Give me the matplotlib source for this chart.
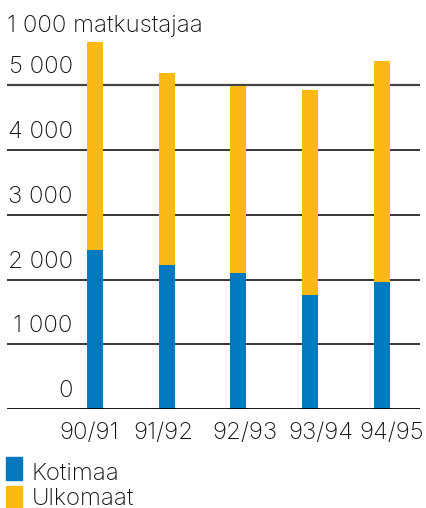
import numpy as np
import matplotlib
matplotlib.use('Agg')
import matplotlib.pyplot as plt
from matplotlib.patches import Rectangle
from matplotlib.transforms import ScaledTranslation, blended_transform_factory
from matplotlib import rcParams
rcParams['font.family'] = ['Inter', 'DejaVu Sans']
rcParams['font.weight'] = 'light'

##################################################
# data

seasons = ['90/91', '91/92', '92/93', '93/94', '94/95']
kotimaa = np.array([2450, 2230, 2105, 1755, 1960])
total = np.array([5670, 5195, 4995, 4935, 5385])
ulkomaat = total - kotimaa

yticks = [0, 1000, 2000, 3000, 4000, 5000]
ytick_labels = ['0', '1 000', '2 000', '3 000', '4 000', '5 000']
series_names = ['Kotimaa', 'Ulkomaat']

##################################################
# settings

blue = '#0079c1'
yellow = '#fdb913'
W, H, dpi = 426, 508, 100
fs = 17.3
tcol = '#111111'

##################################################
# main program

fig = plt.figure(figsize=(W/dpi, H/dpi), dpi=dpi)
ax = fig.add_axes([7/W, (H-409)/H, 413/W, 374/H])

x = np.arange(len(seasons))
ax.bar(x, kotimaa, width=0.223, color=blue, zorder=2)
ax.bar(x, ulkomaat, bottom=kotimaa, width=0.223, color=yellow, zorder=2)

ax.set_xlim(-1.226, 4.53)
ax.set_ylim(0, 5780)
ax.axis('off')

# gridlines with labels above them
lab_tr = blended_transform_factory(ax.transAxes, ax.transData)
for val, lab in zip(yticks, ytick_labels):
    if val == 0:
        ax.axhline(val, color='black', lw=2.0, zorder=3)
    elif val == 5000:
        ax.axhline(val, color='#444444', lw=1.6, zorder=1)
    else:
        ax.axhline(val, color='black', lw=1.1, zorder=1)
    ax.text(0.159, val, lab, transform=lab_tr + ScaledTranslation(0, 12/dpi, fig.dpi_scale_trans),
            ha='right', va='baseline', fontsize=fs, color=tcol)

# category labels (not exactly centred under the bars in the original)
offsets_px = [-5.5, -3, 6, 11, 10]
cat_tr = blended_transform_factory(ax.transData, ax.transAxes)
for xi, lab, off in zip(x, seasons, offsets_px):
    ax.text(xi, 0, lab, transform=cat_tr + ScaledTranslation(off/dpi, -30/dpi, fig.dpi_scale_trans),
            ha='center', va='baseline', fontsize=fs, color=tcol)

fig.text(7/W, (H-32)/H, '1 000 matkustajaa', ha='left', va='baseline', fontsize=fs, color=tcol)

# legend
for i, (name, col) in enumerate(zip(series_names, [blue, yellow])):
    top = 457 + i*29
    fig.add_artist(Rectangle((6/W, (H-top-23)/H), 16/W, 23/H, color=col,
                             transform=fig.transFigure))
    base = 480 + i*25
    fig.text(32/W, (H-base)/H, name, ha='left', va='baseline', fontsize=fs, color=tcol)

plt.savefig('out.png', dpi=dpi)
